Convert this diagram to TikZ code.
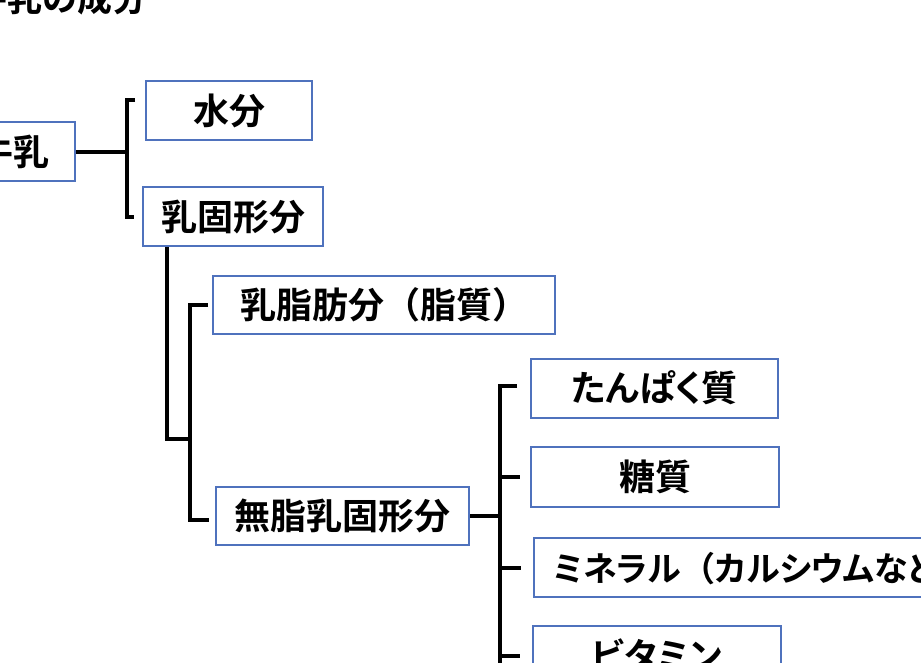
\documentclass[tikz,border=0pt]{standalone}
\usepackage{fontspec}
\setmainfont{Noto Sans CJK JP}[BoldFont={Noto Sans CJK JP Bold}]
\usetikzlibrary{positioning}
\definecolor{boxblue}{RGB}{79,114,189}
\newcommand\kana[1]{{\addfontfeature{RawFeature=+palt}#1}}

\begin{document}
\begin{tikzpicture}[x=1pt,y=-1pt,
        part/.style={draw=boxblue,line width=2pt,fill=white,minimum height=59pt,
            inner sep=0pt,text height=31.5pt,text depth=4.5pt,
            font=\fontsize{36}{40}\selectfont\bfseries},
        br/.style={line width=4pt,line cap=butt,line join=miter}]
        \useasboundingbox (0,0) rectangle (921,662);
        \clip (0,0) rectangle (921,662);
        \fill[white] (0,0) rectangle (921,662);
        % title
        \node[anchor=base west,inner sep=0pt,font=\fontsize{35}{40}\selectfont\bfseries] (title) at (-28,11) {牛乳の成分};
        % boxes
        \node[part,minimum width=122pt] (niu) at (14,151.5) {牛乳};
        \node[part,minimum width=166pt] (suibun) at (229,110.5) {水分};
        \node[part,minimum width=180pt] (kokei) at (233,216.5) {乳固形分};
        \node[part,minimum width=342pt,minimum height=58pt] (shibou) at (384,305) {乳脂肪分（脂質）};
        \node[part,minimum width=253pt,minimum height=58pt] (mushi) at (342.5,516) {無脂乳固形分};
        \node[part,minimum width=247pt] (tanpaku) at (654.5,388) {\kana{たんぱく}質};
        \node[part,minimum width=248pt,minimum height=60pt] (tou) at (655,477) {糖質};
        \node[part,anchor=west,inner xsep=19pt,font=\fontsize{34}{40}\selectfont\bfseries] (mineral) at (533,567.5) {\kana{ミネラル}（\kana{カルシウムなど}）};
        \node[part,minimum width=248pt] (vitamin) at (657,655.5) {\kana{ビタミン}};
        % brackets
        \coordinate (b1) at (127,151.5);
        \draw[br] (niu.east) -- (b1);
        \draw[br] (135,100) -| (b1) |- ([xshift=-8pt]kokei.west);
        \coordinate (b2) at (190,439);
        \draw[br] ([xshift=25pt]kokei.south west) |- (b2);
        \draw[br] ([xshift=-4pt]shibou.west) -| (b2) |- ([xshift=-6pt,yshift=-4pt]mushi.west);
        \coordinate (b3) at (500,516);
        \draw[br] (mushi.east) -- (b3);
        \draw[br] ([xshift=-13pt,yshift=2pt]tanpaku.west) -| (500,700);
        \draw[br] (b3) -- (b3 |- tou.west) -- ([xshift=-10pt]tou.west);
        \draw[br] (b3 |- mineral.west) -- ([xshift=-12pt]mineral.west);
        \draw[br] (b3 |- vitamin.west) -- ([xshift=-12pt]vitamin.west);
\end{tikzpicture}
\end{document}
